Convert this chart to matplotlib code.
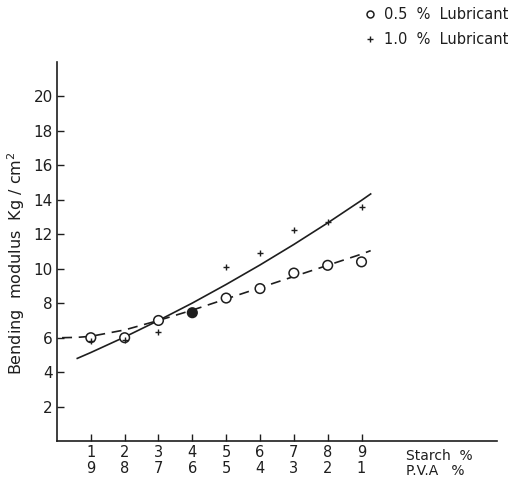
import matplotlib.pyplot as plt
import numpy as np

# composicao (Starch % / P.V.A %)
starch = [1, 2, 3, 4, 5, 6, 7, 8, 9]
pva = [9, 8, 7, 6, 5, 4, 3, 2, 1]

# modulo de flexao (Kg/cm2)
mod_05 = [6.0, 6.0, 7.0, 7.45, 8.3, 8.85, 9.75, 10.2, 10.4]
mod_10 = [5.8, 5.85, 6.35, 7.5, 10.1, 10.9, 12.25, 12.7, 13.6]
overlap = [False, False, False, True, False, False, False, False, False]

# curvas ajustadas (lidas ao longo do traco)
fit_x = [0.15, 0.6, 1, 2, 3, 4, 5, 6, 7, 8, 9, 9.27]
fit_05 = [6.0, 6.02, 6.08, 6.45, 7.0, 7.6, 8.25, 8.9, 9.55, 10.2, 10.85, 11.05]
fit_10 = [None, 4.8, 5.14, 6.04, 7.0, 8.01, 9.09, 10.22, 11.41, 12.66, 13.97, 14.34]

ink = '#1e1e1e'
plt.rcParams['font.family'] = ['DejaVu Sans']

fig = plt.figure(figsize=(5.3, 4.8), dpi=100)
ax = fig.add_axes([0.1075, 0.081, 0.83, 0.79])

# curva 0.5 % (tracejada)
ax.plot(fit_x, fit_05, color=ink, lw=1.2, ls=(0, (6, 4)))
# curva 1.0 % (continua)
ax.plot(fit_x[1:], fit_10[1:], color=ink, lw=1.2)

face = [ink if o else 'white' for o in overlap]
ax.scatter(starch, mod_05, s=48, facecolors=face, edgecolors=ink, linewidths=1.1, zorder=3)
ax.scatter(starch, mod_10, s=22, marker='+', color=ink, linewidths=1.0, zorder=4)

ax.set_xlim(0, 13)
ax.set_ylim(0, 22)
ax.set_xticks(starch)
ax.set_xticklabels([f"{s}\n{p}" for s, p in zip(starch, pva)], fontsize=10.5, color=ink, linespacing=1.1)
ax.set_yticks(range(2, 21, 2))
ax.set_yticklabels([str(v) for v in range(2, 21, 2)], fontsize=11, color=ink)
ax.tick_params(axis='x', direction='in', length=5, width=1, pad=3, colors=ink)
ax.tick_params(axis='y', direction='in', length=5, width=1, pad=3, colors=ink)

for side in ['top', 'right']:
    ax.spines[side].set_visible(False)
for side in ['left', 'bottom']:
    ax.spines[side].set_color(ink)
    ax.spines[side].set_linewidth(1.2)

ax.set_ylabel('Bending  modulus  Kg / cm$^2$', fontsize=11.5, color=ink)
ax.yaxis.set_label_coords(-0.068, 0.47)

ax.text(10.3, -1.3, 'Starch  %\nP.V.A   %', fontsize=10, color=ink,
        va='center', ha='left', linespacing=1.15)

# legenda
h1 = plt.Line2D([], [], ls='none', marker='o', mfc='white', mec=ink, ms=5, mew=1.1)
h2 = plt.Line2D([], [], ls='none', marker='+', color=ink, ms=4, mew=1.0)
fig.legend([h1, h2], ['0.5  %  Lubricant', '1.0  %  Lubricant'],
           loc='upper left', bbox_to_anchor=(0.666, 1.012), frameon=False,
           fontsize=10.5, handlelength=0.6, handletextpad=0.6, labelspacing=0.65,
           labelcolor=ink)

fig.savefig('out.png', dpi=100)
